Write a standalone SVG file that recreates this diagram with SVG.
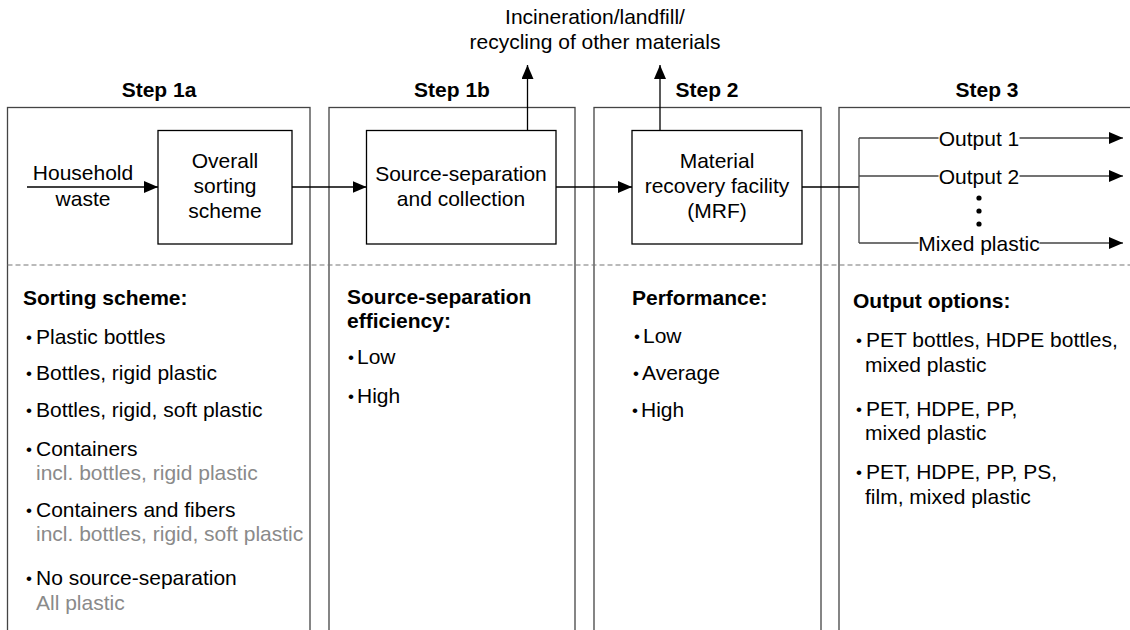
<svg xmlns="http://www.w3.org/2000/svg" width="1130" height="630" viewBox="0 0 1130 630">
  <style>
    text { font-family: "Liberation Sans", Arial, sans-serif; font-size: 21px; fill: #000; }
    .b { font-weight: bold; }
    .c { text-anchor: middle; }
    .sub { fill: #8a8a8a; }
    .bu { font-size: 17px; }
    .panel { fill: none; stroke: #444; stroke-width: 1.3; }
    .box { fill: #fff; stroke: #000; stroke-width: 1.3; }
    .ln { fill: none; stroke: #000; stroke-width: 1.3; }
    .gl { fill: none; stroke: #444; stroke-width: 1.3; }
    .dash { fill: none; stroke: #777; stroke-width: 1.2; stroke-dasharray: 5 3; }
  </style>
  <defs>
    <marker id="arr" markerUnits="userSpaceOnUse" markerWidth="15" markerHeight="13" refX="14" refY="6" orient="auto">
      <path d="M0,0 L14,6 L0,12 z" fill="#000"/>
    </marker>
  </defs>

  <rect width="1130" height="630" fill="#fff"/>

  <!-- step panels -->
  <g id="panel-1a">
    <rect class="panel" x="7.5" y="107.5" width="302.5" height="540"/>
    <text class="b c" x="159" y="97">Step 1a</text>
  </g>
  <g id="panel-1b">
    <rect class="panel" x="329" y="107.5" width="246" height="540"/>
    <text class="b c" x="452" y="97">Step 1b</text>
  </g>
  <g id="panel-2">
    <rect class="panel" x="594" y="107.5" width="227" height="540"/>
    <text class="b c" x="707" y="97">Step 2</text>
  </g>
  <g id="panel-3">
    <rect class="panel" x="839" y="107.5" width="300" height="540"/>
    <text class="b c" x="987" y="97">Step 3</text>
  </g>

  <line class="dash" x1="7.5" y1="265" x2="1130" y2="265"/>

  <!-- connectors -->
  <g id="connectors">
    <line class="ln" x1="27" y1="187" x2="158" y2="187" marker-end="url(#arr)"/>
    <line class="ln" x1="292" y1="187" x2="366.5" y2="187" marker-end="url(#arr)"/>
    <line class="ln" x1="556" y1="187" x2="632" y2="187" marker-end="url(#arr)"/>
    <line class="ln" x1="527.5" y1="130.5" x2="527.5" y2="65" marker-end="url(#arr)"/>
    <line class="ln" x1="660" y1="130.5" x2="660" y2="65" marker-end="url(#arr)"/>
    <line class="ln" x1="802" y1="187" x2="859" y2="187"/>
    <line class="gl" x1="859" y1="138" x2="859" y2="243"/>
    <line class="gl" x1="859" y1="138" x2="938.5" y2="138"/>
    <line class="gl" x1="1019.5" y1="138" x2="1123" y2="138" marker-end="url(#arr)"/>
    <line class="gl" x1="859" y1="176" x2="938.5" y2="176"/>
    <line class="gl" x1="1019.5" y1="176" x2="1123" y2="176" marker-end="url(#arr)"/>
    <line class="gl" x1="859" y1="243" x2="918.5" y2="243"/>
    <line class="gl" x1="1039.5" y1="243" x2="1123" y2="243" marker-end="url(#arr)"/>
  </g>

  <g id="input-label">
    <text class="c" x="83" y="180">Household</text>
    <text class="c" x="83" y="206">waste</text>
  </g>
  <g id="residual-label">
    <text class="c" x="595" y="24">Incineration/landfill/</text>
    <text class="c" x="595" y="49">recycling of other materials</text>
  </g>

  <!-- process boxes -->
  <g id="sorting-scheme">
    <rect class="box" x="158" y="130.5" width="134" height="113.5"/>
    <text class="c" x="225" y="168">Overall</text>
    <text class="c" x="225" y="193">sorting</text>
    <text class="c" x="225" y="218">scheme</text>
  </g>
  <g id="source-separation">
    <rect class="box" x="366.5" y="130.5" width="189.5" height="113.5"/>
    <text class="c" x="461" y="181">Source-separation</text>
    <text class="c" x="461" y="206">and collection</text>
  </g>
  <g id="mrf">
    <rect class="box" x="632" y="130.5" width="170" height="113.5"/>
    <text class="c" x="717" y="168">Material</text>
    <text class="c" x="717" y="193">recovery facility</text>
    <text class="c" x="717" y="218">(MRF)</text>
  </g>

  <!-- outputs -->
  <g id="outputs">
    <text class="c" x="979" y="145.5">Output 1</text>
    <text class="c" x="979" y="183.5">Output 2</text>
    <circle cx="979" cy="198" r="2.6"/>
    <circle cx="979" cy="211" r="2.6"/>
    <circle cx="979" cy="224" r="2.6"/>
    <text class="c" x="979" y="250.5">Mixed plastic</text>
  </g>

  <!-- option lists -->
  <g id="sorting-options">
    <text class="b" x="23" y="305">Sorting scheme:</text>
    <text x="26" y="344"><tspan class="bu" dy="-1.5">•</tspan><tspan x="36" dy="1.5">Plastic bottles</tspan></text>
    <text x="26" y="380"><tspan class="bu" dy="-1.5">•</tspan><tspan x="36" dy="1.5">Bottles, rigid plastic</tspan></text>
    <text x="26" y="417"><tspan class="bu" dy="-1.5">•</tspan><tspan x="36" dy="1.5">Bottles, rigid, soft plastic</tspan></text>
    <text x="26" y="456"><tspan class="bu" dy="-1.5">•</tspan><tspan x="36" dy="1.5">Containers</tspan></text>
    <text class="sub" x="36" y="480">incl. bottles, rigid plastic</text>
    <text x="26" y="517"><tspan class="bu" dy="-1.5">•</tspan><tspan x="36" dy="1.5">Containers and fibers</tspan></text>
    <text class="sub" x="36" y="541">incl. bottles, rigid, soft plastic</text>
    <text x="26" y="585"><tspan class="bu" dy="-1.5">•</tspan><tspan x="36" dy="1.5">No source-separation</tspan></text>
    <text class="sub" x="36" y="610">All plastic</text>
  </g>
  <g id="efficiency-options">
    <text class="b" x="347" y="304">Source-separation</text>
    <text class="b" x="347" y="328">efficiency:</text>
    <text x="348" y="364"><tspan class="bu" dy="-1.5">•</tspan><tspan x="357" dy="1.5">Low</tspan></text>
    <text x="348" y="403"><tspan class="bu" dy="-1.5">•</tspan><tspan x="357" dy="1.5">High</tspan></text>
  </g>
  <g id="performance-options">
    <text class="b" x="632" y="305">Performance:</text>
    <text x="634" y="343"><tspan class="bu" dy="-1.5">•</tspan><tspan x="643" dy="1.5">Low</tspan></text>
    <text x="633" y="380"><tspan class="bu" dy="-1.5">•</tspan><tspan x="642" dy="1.5">Average</tspan></text>
    <text x="632" y="417"><tspan class="bu" dy="-1.5">•</tspan><tspan x="641" dy="1.5">High</tspan></text>
  </g>
  <g id="output-options">
    <text class="b" x="853" y="308">Output options:</text>
    <text x="856" y="347"><tspan class="bu" dy="-1.5">•</tspan><tspan x="866" dy="1.5">PET bottles, HDPE bottles,</tspan></text>
    <text x="865" y="372">mixed plastic</text>
    <text x="856" y="416"><tspan class="bu" dy="-1.5">•</tspan><tspan x="866" dy="1.5">PET, HDPE, PP,</tspan></text>
    <text x="865" y="440">mixed plastic</text>
    <text x="856" y="479"><tspan class="bu" dy="-1.5">•</tspan><tspan x="866" dy="1.5">PET, HDPE, PP, PS,</tspan></text>
    <text x="865" y="504">film, mixed plastic</text>
  </g>
</svg>
